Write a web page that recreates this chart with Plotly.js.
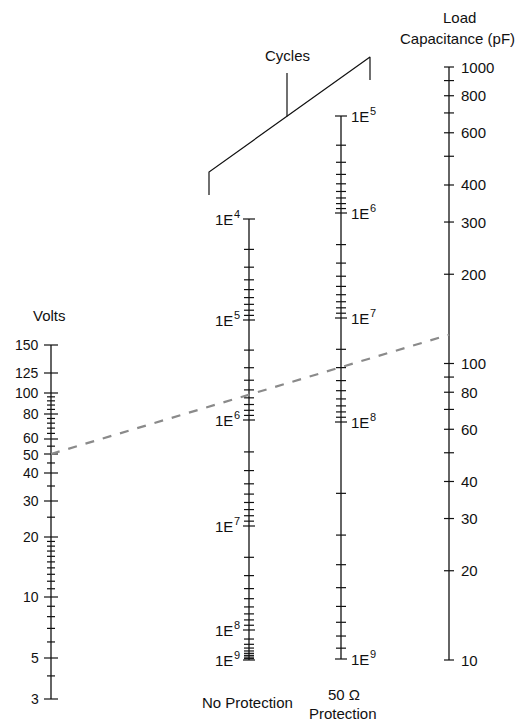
<!DOCTYPE html>
<html><head><meta charset="utf-8">
<script src="https://cdn.plot.ly/plotly-3.0.1.min.js"></script>
<style>html,body{margin:0;padding:0;background:#fff}#chart{width:516px;height:723px}</style>
</head><body><div id="chart"></div>
<script>
// ---------------- data ----------------
const voltsLabels = [150,125,100,80,60,50,40,30,20,10,5,3];
const voltsMinor  = [96,92,88,84,76,72,68,64,55,45,35,25,19,18,17,16,15,14,13,12,11,9,8,7,6,4];
const noProtDecades = [4,5,6,7,8,9];
const ohmDecades    = [5,6,7,8,9];
const cycleMantissas = [2,3,4,5,6,7,8,9];
const loadLabels = [1000,800,600,400,300,200,100,80,60,40,30,20,10];
const loadMinor  = [900,700,500,90,70,50];
const exampleVolts = 50;
const exampleLoad  = 125;

// ---------------- geometry (scale calibration, page px) ----------------
const G = {
  volts:  {x:51,  pos:[345,373,393,414,439,454,473,501,537,597,658,699]},
  noProt: {x:249, pos:[219,320,420,526,630,660]},
  ohm:    {x:341, pos:[116,213,318,422,659]},
  load:   {x:449, top:67, bottom:660, lo:10, hi:1000}
};
const FS = 15, SUP = 11;
const FAM = 'Liberation Sans, Arial, Helvetica, sans-serif';
const FONT = {family:FAM, size:FS, color:'#111'};
const VFONT = {family:FAM, size:14, color:'#111'};
const SFONT = {family:FAM, size:SUP, color:'#111'};

function voltsPos(v){
  const L = voltsLabels, P = G.volts.pos;
  for(let i=0;i<L.length-1;i++){
    if(v<=L[i] && v>=L[i+1]){
      const t = Math.log(L[i]/v)/Math.log(L[i]/L[i+1]);
      return P[i] + t*(P[i+1]-P[i]);
    }
  }
  return null;
}
function loadPos(v){
  const g=G.load;
  return g.bottom - (Math.log10(v)-Math.log10(g.lo))/(Math.log10(g.hi)-Math.log10(g.lo))*(g.bottom-g.top);
}
function cyclePos(scale, dec, exps, m){
  const i = exps.indexOf(dec);
  const P = scale.pos;
  return P[i] + Math.log10(m)*(P[i+1]-P[i]);
}

const lx=[], ly=[];      // axis lines
const tx=[], ty=[];      // ticks
function seg(arrx,arry,x0,y0,x1,y1){arrx.push(x0,x1,null);arry.push(y0,y1,null);}
function tick(x,y,h){seg(tx,ty,x-h,y,x+h,y);}
const ann=[];
function label(text,x,y,xanchor,extra){
  ann.push(Object.assign({text:text,x:x,y:y,xref:'x',yref:'y',xanchor:xanchor,yanchor:'middle',
    showarrow:false,font:FONT,borderpad:0},extra||{}));
}

// Volts scale
{
  const x=G.volts.x;
  seg(lx,ly,x,voltsPos(voltsLabels[0]),x,voltsPos(voltsLabels[voltsLabels.length-1]));
  voltsLabels.forEach(v=>{
    const y=voltsPos(v); tick(x,y,7);
    const nudge = v===60 ? 1 : (v===50 ? -1 : 0);
    label(String(v),x-11,y,'right',{font:VFONT,yshift:nudge});
  });
  voltsMinor.forEach(v=>tick(x,voltsPos(v),4));
  label('Volts',x-2,315,'center');
}
// Cycle scales
const W1E = FS*1.223;   // advance width of "1E"
const WSUP = SUP*0.556; // advance width of one digit
function cycleScale(scale, exps, side){
  const x=scale.x;
  seg(lx,ly,x,scale.pos[0],x,scale.pos[scale.pos.length-1]);
  exps.forEach((e,i)=>{
    const y=scale.pos[i];
    tick(x,y,6);
    if(side==='left'){
      label(String(e),x-8,y,'right',{font:SFONT,yshift:5});
      label('1E',x-8-WSUP-0.5,y,'right');
    } else {
      label('1E',x+9,y,'left');
      label(String(e),x+9+W1E+0.5,y,'left',{font:SFONT,yshift:5});
    }
    if(i<exps.length-1) cycleMantissas.forEach(m=>tick(x,cyclePos(scale,e,exps,m),5));
  });
}
cycleScale(G.noProt, noProtDecades, 'left');
cycleScale(G.ohm, ohmDecades, 'right');
label('No Protection',G.noProt.x-2,702,'center');
label('50 Ω',G.ohm.x+3,694,'center');
label('Protection',G.ohm.x+2,713,'center');

// Load scale
{
  const x=G.load.x;
  seg(lx,ly,x,loadPos(G.load.hi),x,loadPos(G.load.lo));
  loadLabels.forEach(v=>{const y=loadPos(v); tick(x,y,5); label(String(v),x+11,y,'left');});
  loadMinor.forEach(v=>tick(x,loadPos(v),5));
  label('Load',459,17,'center');
  label('Capacitance (pF)',457,38,'center');
}

// Cycles bracket
const bx=[209,209,370,370,null,287,287], by=[195,172,57,80,null,116.5,73];
label('Cycles',287,55,'center');

// Example line
const ex=[G.volts.x, G.load.x], ey=[voltsPos(exampleVolts), loadPos(exampleLoad)];

const traces=[
  {x:lx,y:ly,mode:'lines',line:{color:'#111',width:1.3},hoverinfo:'skip'},
  {x:tx,y:ty,mode:'lines',line:{color:'#111',width:1.2},hoverinfo:'skip'},
  {x:bx,y:by,mode:'lines',line:{color:'#111',width:1.2},hoverinfo:'skip'},
  {x:ex,y:ey,mode:'lines',line:{color:'#8a8a8a',width:2.2,dash:'dash'},hoverinfo:'skip'}
];
const layout={
  width:516,height:723,margin:{l:0,r:0,t:0,b:0},
  paper_bgcolor:'#fff',plot_bgcolor:'#fff',showlegend:false,
  xaxis:{range:[0,516],visible:false,fixedrange:true},
  yaxis:{range:[723,0],visible:false,fixedrange:true},
  annotations:ann
};
Plotly.newPlot('chart',traces,layout,{staticPlot:true,displayModeBar:false});
</script></body></html>
